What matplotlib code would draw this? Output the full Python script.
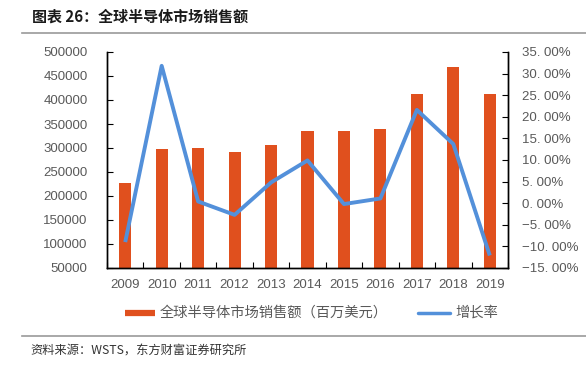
import numpy as np
import matplotlib.pyplot as plt
from matplotlib.lines import Line2D

plt.rcParams['font.family'] = ['Liberation Sans', 'Noto Sans CJK SC', 'DejaVu Sans']
cjk = ['Noto Sans CJK SC', 'DejaVu Sans']

# 数据
years = ['2009', '2010', '2011', '2012', '2013', '2014', '2015', '2016', '2017', '2018', '2019']
sales = [226313, 298315, 299521, 291562, 305584, 335843, 335168, 338931, 412221, 468778, 412307]
growth = [-0.090, 0.318, 0.004, -0.027, 0.048, 0.099, -0.002, 0.011, 0.216, 0.137, -0.121]
left_ticks = [50000, 100000, 150000, 200000, 250000, 300000, 350000, 400000, 450000, 500000]
right_ticks = [-0.15, -0.10, -0.05, 0.0, 0.05, 0.10, 0.15, 0.20, 0.25, 0.30, 0.35]
legend_names = ['全球半导体市场销售额（百万美元）', '增长率']

bar_color = '#E0501E'
line_color = '#5390DA'
grey = '#595959'

fig = plt.figure(figsize=(5.86, 3.65), dpi=100)
W, H = 586, 365
ax = fig.add_axes([107 / W, 1 - 268 / H, (508 - 107) / W, (268 - 52) / H])
ax2 = ax.twinx()

x = np.arange(len(years))
ax.bar(x, np.array(sales) - 50000, bottom=50000, width=0.33, color=bar_color, zorder=2)
ax2.plot(x, growth, color=line_color, linewidth=2.8, solid_capstyle='butt', zorder=3)

ax.set_xlim(-0.5, len(years) - 0.5)
ax.set_ylim(50000, 500000)
ax2.set_ylim(-0.15, 0.35)
ax.set_yticks(left_ticks)
ax.set_yticklabels([str(v) for v in left_ticks])
ax2.set_yticks(right_ticks)
ax2.set_yticklabels([(('−' if v < 0 else '') + f'{abs(v) * 100:.2f}'.replace('.', '. ') + '%') for v in right_ticks])

ax.set_xticks(x)
ax.set_xticklabels(years)
ax.set_xticks(np.arange(len(years) + 1) - 0.5, minor=True)
ax.tick_params(axis='x', which='major', length=0, pad=8, labelsize=9.5, labelcolor=grey)
ax.tick_params(axis='x', which='minor', direction='in', length=4, width=0.8)
ax.tick_params(axis='y', direction='in', length=4, width=0.8, labelsize=9.5, labelcolor=grey, pad=14)
ax2.tick_params(axis='y', direction='in', length=4, width=0.8, labelsize=9.5, labelcolor=grey, pad=10)

for a in (ax, ax2):
    a.spines['top'].set_visible(False)
    for s in ('left', 'right', 'bottom'):
        a.spines[s].set_linewidth(1.0)
        a.spines[s].set_color('black')

# 图例（手动放置）
ly = 1 - 313 / H
fig.add_artist(Line2D([125 / W, 155 / W], [ly, ly], color=bar_color, linewidth=4.5, solid_capstyle='butt'))
fig.text(160 / W, ly, legend_names[0], fontsize=10.3, family=cjk, color=grey, va='center', ha='left')
fig.add_artist(Line2D([418 / W, 450 / W], [ly, ly], color=line_color, linewidth=2.5, solid_capstyle='round'))
fig.text(455 / W, ly, legend_names[1], fontsize=10.3, family=cjk, color=grey, va='center', ha='left')

# 标题与来源
fig.text(32 / W, 1 - 17 / H, '图表 26：全球半导体市场销售额', fontsize=10.8, fontweight='bold',
         family=cjk, va='center', ha='left', color='#1a1a1a')
fig.add_artist(Line2D([22 / W, 1], [1 - 33 / H, 1 - 33 / H], color='#999999', linewidth=1.2))
fig.add_artist(Line2D([22 / W, 1], [1 - 336 / H, 1 - 336 / H], color='#999999', linewidth=1.2))
fig.text(30 / W, 1 - 351 / H, '资料来源：WSTS，东方财富证券研究所', fontsize=8.8, family=cjk,
         va='center', ha='left', color='#333333')

fig.savefig('out.png', dpi=100)
